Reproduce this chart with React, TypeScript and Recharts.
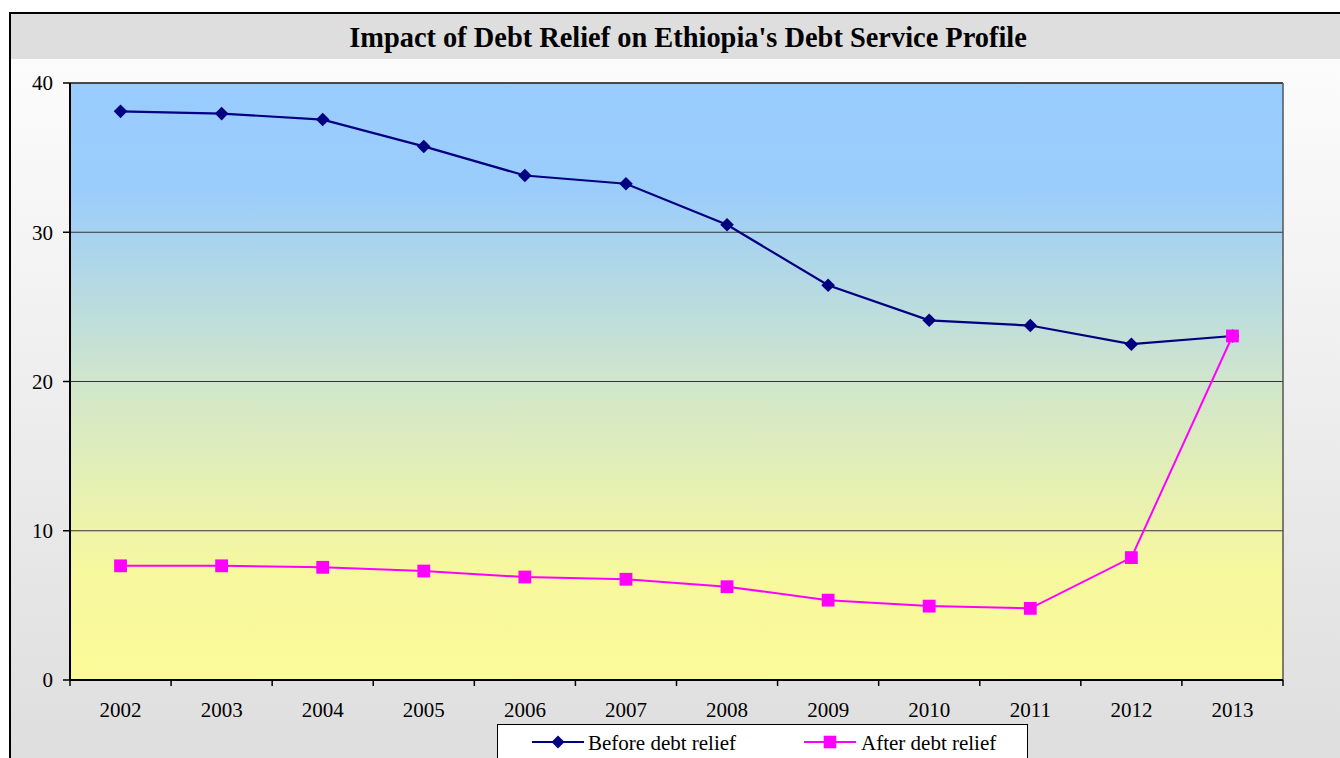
import React from 'react';
import { LineChart, Line, XAxis, YAxis, CartesianGrid, ReferenceLine, Legend } from 'recharts';

const title = "Impact of Debt Relief on Ethiopia's Debt Service Profile";
const years = [2002, 2003, 2004, 2005, 2006, 2007, 2008, 2009, 2010, 2011, 2012, 2013];
const beforeRelief = [38.1, 37.95, 37.55, 35.75, 33.8, 33.25, 30.5, 26.45, 24.1, 23.75, 22.5, 23.05];
const afterRelief = [7.65, 7.65, 7.55, 7.3, 6.9, 6.75, 6.25, 5.35, 4.95, 4.8, 8.2, 23.05];
const yTicks = [0, 10, 20, 30, 40];
const seriesNames = ['Before debt relief', 'After debt relief'];

const data = years.map((year, i) => ({ year, before: beforeRelief[i], after: afterRelief[i] }));
const boundaryTicks = [years[0] - 0.5, ...years.map((y) => y + 0.5)];
const xTicks = [...boundaryTicks, ...years].sort((a, b) => a - b);

const FONT = '"Liberation Serif", "Times New Roman", serif';
const NAVY = '#000080';
const MAGENTA = '#ff00ff';

const XTick = (props: any) => {
  const { x, y, payload } = props;
  const v = payload.value;
  if (Number.isInteger(v)) {
    return (
      <text x={x} y={y + 37} textAnchor="middle" fontSize={21} fontFamily={FONT} fill="#000">
        {v}
      </text>
    );
  }
  return <line x1={x} y1={y} x2={x} y2={y + 6} stroke="#000" strokeWidth={1.5} />;
};

const diamondPath = (cx: number, cy: number, r: number) =>
  `M${cx},${cy - r}L${cx + r},${cy}L${cx},${cy + r}L${cx - r},${cy}Z`;

const DiamondDot = (p: any) => {
  const { cx, cy, index } = p;
  if (cx == null || cy == null) return <g key={`dn${index}`} />;
  return <path key={`d${index}`} d={diamondPath(cx, cy, 6.8)} fill={NAVY} />;
};

const SquareDot = (p: any) => {
  const { cx, cy, index } = p;
  if (cx == null || cy == null) return <g key={`sn${index}`} />;
  const h = 6.4;
  return <rect key={`s${index}`} x={cx - h} y={cy - h} width={2 * h} height={2 * h} fill={MAGENTA} />;
};

const LegendBox = () => (
  <svg width={531} height={40} style={{ display: 'block' }}>
    <rect x={0.5} y={0.5} width={530} height={45} fill="#fff" stroke="#000" strokeWidth={1} />
    <line x1={35} y1={18} x2={87} y2={18} stroke={NAVY} strokeWidth={2} />
    <path d={diamondPath(61, 18, 6.5)} fill={NAVY} />
    <text x={91} y={25.5} fontSize={21} fontFamily={FONT} fill="#000">{seriesNames[0]}</text>
    <line x1={307} y1={18} x2={359} y2={18} stroke={MAGENTA} strokeWidth={2} />
    <rect x={326.7} y={11.7} width={12.6} height={12.6} fill={MAGENTA} />
    <text x={364} y={25.5} fontSize={21} fontFamily={FONT} fill="#000">{seriesNames[1]}</text>
  </svg>
);

export default function App() {
  return (
    <div style={{ position: 'absolute', left: 0, top: 0, width: 1340, height: 758, overflow: 'hidden', background: '#fff' }}>
      <div
        style={{
          position: 'absolute',
          left: 9,
          top: 12,
          width: 1400,
          height: 800,
          borderLeft: '2px solid #000',
          borderTop: '2px solid #000',
          background: 'linear-gradient(to bottom, #dedede 0px, #dedede 45px, #fcfcfc 45px, #dedede 746px)',
        }}
      />
      <div
        style={{
          position: 'absolute',
          left: 0,
          top: 15,
          width: 1376,
          height: 46,
          lineHeight: '46px',
          textAlign: 'center',
          fontFamily: FONT,
          fontWeight: 'bold',
          fontSize: 28.4,
          color: '#000',
          whiteSpace: 'nowrap',
        }}
      >
        {title}
      </div>
      <div style={{ position: 'absolute', left: 0, top: 0 }}>
        <LineChart width={1340} height={758} data={data} margin={{ top: 83, right: 57, bottom: 38, left: 0 }}>
          <defs>
            <linearGradient id="plotBg" x1="0" y1="0" x2="0" y2="1">
              <stop offset="0" stopColor="#99ccff" />
              <stop offset="0.18" stopColor="#9bcdfb" />
              <stop offset="0.5" stopColor="#d0e6cc" />
              <stop offset="0.82" stopColor="#f7f89e" />
              <stop offset="1" stopColor="#fbfb99" />
            </linearGradient>
          </defs>
          <CartesianGrid vertical={false} stroke="#333" strokeWidth={1} fill="url(#plotBg)" fillOpacity={1} />
          <XAxis
            dataKey="year"
            type="number"
            domain={[boundaryTicks[0], boundaryTicks[boundaryTicks.length - 1]]}
            ticks={xTicks}
            interval={0}
            tickLine={false}
            tickSize={0}
            tickMargin={0}
            tick={<XTick />}
            axisLine={{ stroke: '#000', strokeWidth: 2 }}
            height={40}
            allowDataOverflow
          />
          <YAxis
            domain={[0, 40]}
            ticks={yTicks}
            interval={0}
            width={70}
            tickSize={7}
            tickMargin={10}
            tickLine={{ stroke: '#000', strokeWidth: 1.5 }}
            axisLine={{ stroke: '#000', strokeWidth: 2 }}
            tick={{ fontSize: 21, fill: '#000', fontFamily: FONT }}
            allowDataOverflow
          />
          <ReferenceLine y={40} stroke="#333" strokeWidth={1.5} />
          <ReferenceLine x={boundaryTicks[boundaryTicks.length - 1]} stroke="#555" strokeWidth={1.5} />
          <Legend
            layout="horizontal"
            verticalAlign="middle"
            align="center"
            content={<LegendBox />}
            wrapperStyle={{ left: 497, top: 724, width: 531, height: 40 }}
          />
          <Line
            type="linear"
            dataKey="before"
            name={seriesNames[0]}
            stroke={NAVY}
            strokeWidth={2.2}
            dot={DiamondDot}
            activeDot={false}
            isAnimationActive={false}
          />
          <Line
            type="linear"
            dataKey="after"
            name={seriesNames[1]}
            stroke={MAGENTA}
            strokeWidth={2}
            dot={SquareDot}
            activeDot={false}
            isAnimationActive={false}
          />
        </LineChart>
      </div>
    </div>
  );
}
